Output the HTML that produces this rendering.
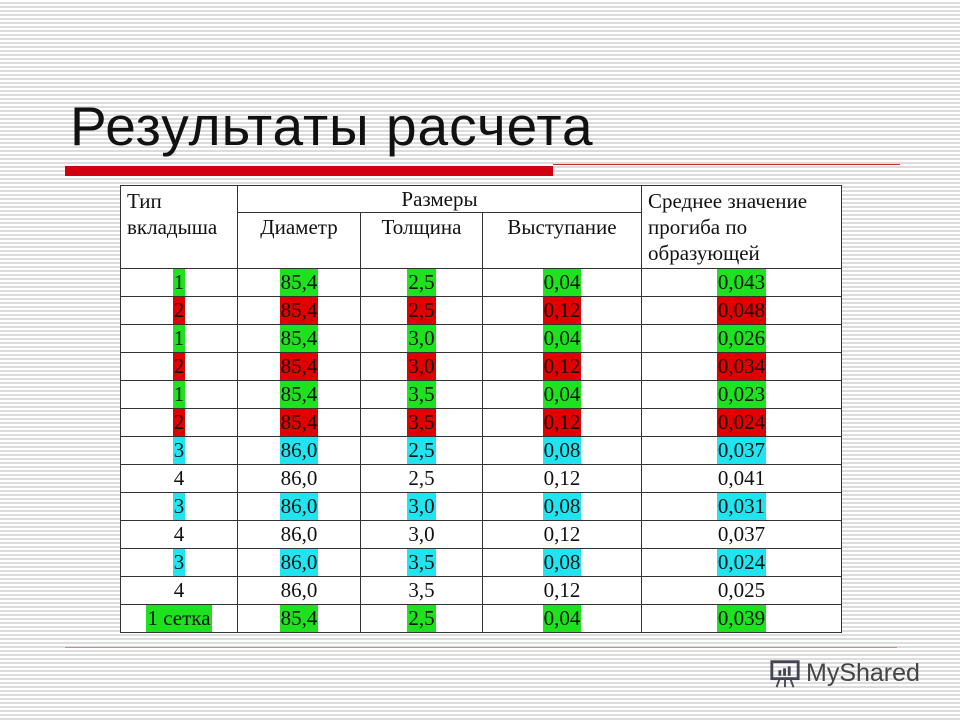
<!DOCTYPE html>
<html><head><meta charset="utf-8">
<style>
html,body{margin:0;padding:0}
body{width:960px;height:720px;position:relative;overflow:hidden;background:#fff repeating-linear-gradient(to bottom,#fff 0,#fff 2px,#dcdcdc 2px,#dcdcdc 4px);font-family:"Liberation Serif","DejaVu Serif",serif}
#title{position:absolute;left:70px;top:94px;font:55px "Liberation Sans","DejaVu Sans",sans-serif;color:#111;margin:0;font-weight:normal;letter-spacing:1px}
#redbar{position:absolute;left:65px;top:166px;width:488px;height:10px;background:#d00010}
#redline{position:absolute;left:553px;top:164px;width:347px;height:1px;background:#c03030}
#botline{position:absolute;left:65px;top:647px;width:832px;height:1px;background:#c88}
table{position:absolute;left:120px;top:185px;border-collapse:collapse;background:#fff;table-layout:fixed;width:721px}
td{border:1px solid #333;padding:0;font-size:21px;color:#111;text-align:center;height:27px;line-height:27px}
td.h{vertical-align:top;text-align:left;padding:2px 6px;line-height:26px}
span.g,span.r,span.c{display:inline-block;height:27px;padding:0 1px}
.g{background:#1fe21f}.r{background:#e00000}.c{background:#20e4f0}
#logo{position:absolute;left:768px;top:657px;font:25px "Liberation Sans",sans-serif;color:#444;display:flex;align-items:center;gap:4px}
</style></head><body>
<h1 id="title">Результаты расчета</h1>
<div id="redbar"></div>
<div id="redline"></div>
<table>
<colgroup><col style="width:117px"><col style="width:123px"><col style="width:122px"><col style="width:159px"><col style="width:200px"></colgroup>
<tr><td class="h" rowspan="2">Тип<br>вкладыша</td><td colspan="3" style="height:26px;line-height:26px">Размеры</td><td class="h" rowspan="2">Среднее значение<br>прогиба по<br>образующей</td></tr>
<tr><td style="height:54px;vertical-align:top;line-height:28px">Диаметр</td><td style="vertical-align:top;line-height:28px">Толщина</td><td style="vertical-align:top;line-height:28px">Выступание</td></tr>
<tbody id="tb"></tbody>
</table>
<div id="botline"></div>
<div id="logo"><svg width="34" height="32" viewBox="0 0 36 34"><rect x="4" y="5" width="28" height="18" fill="none" stroke="#445" stroke-width="3"/><rect x="11" y="14" width="3" height="6" fill="#445"/><rect x="16" y="12" width="3" height="8" fill="#445"/><rect x="21" y="10" width="3" height="10" fill="#445"/><line x1="12" y1="24" x2="9" y2="32" stroke="#445" stroke-width="2"/><line x1="24" y1="24" x2="27" y2="32" stroke="#445" stroke-width="2"/><line x1="18" y1="24" x2="18" y2="32" stroke="#445" stroke-width="2"/></svg><span>MyShared</span></div>
<script>
const types=["1","2","1","2","1","2","3","4","3","4","3","4","1 сетка"];
const diam=["85,4","85,4","85,4","85,4","85,4","85,4","86,0","86,0","86,0","86,0","86,0","86,0","85,4"];
const thick=["2,5","2,5","3,0","3,0","3,5","3,5","2,5","2,5","3,0","3,0","3,5","3,5","2,5"];
const prot=["0,04","0,12","0,04","0,12","0,04","0,12","0,08","0,12","0,08","0,12","0,08","0,12","0,04"];
const mean=["0,043","0,048","0,026","0,034","0,023","0,024","0,037","0,041","0,031","0,037","0,024","0,025","0,039"];
const colors=["g","r","g","r","g","r","c","","c","","c","","g"];
const tb=document.getElementById('tb');
types.forEach((t,i)=>{
  const tr=document.createElement('tr');
  
  
  [t,diam[i],thick[i],prot[i],mean[i]].forEach(v=>{
    const td=document.createElement('td');
    
    
    const s=document.createElement('span');
    if(colors[i]) s.className=colors[i];
    s.textContent=v;
    td.appendChild(s);tr.appendChild(td);
  });
  tb.appendChild(tr);
});
</script>
</body></html>
